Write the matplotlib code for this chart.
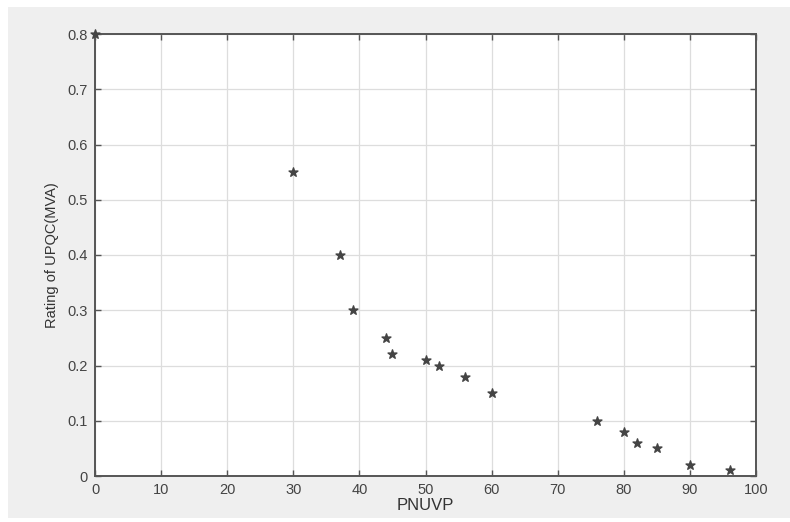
import matplotlib
matplotlib.use("Agg")
import matplotlib.pyplot as plt
from matplotlib.patches import Rectangle

pnuvp = [0, 30, 37, 39, 44, 45, 50, 52, 56, 60, 76, 80, 82, 85, 90, 96]
rating = [0.80, 0.55, 0.40, 0.30, 0.25, 0.22, 0.21, 0.20, 0.18, 0.15, 0.10, 0.08, 0.06, 0.05, 0.02, 0.01]
xticks = list(range(0, 101, 10))
yticks = [0, 0.1, 0.2, 0.3, 0.4, 0.5, 0.6, 0.7, 0.8]
ytick_labels = ["0", "0.1", "0.2", "0.3", "0.4", "0.5", "0.6", "0.7", "0.8"]

plt.rcParams['font.family'] = ['Liberation Sans', 'DejaVu Sans']

fig = plt.figure(figsize=(7.9, 5.22), dpi=100, facecolor='white')
fig.patches.append(Rectangle((8/790, 4/522), 782/790, 511/522, transform=fig.transFigure,
                             facecolor='#efefef', edgecolor='none', zorder=-10))
ax = fig.add_axes([95/790, 46/522, 661/790, 442/522])
ax.set_facecolor('white')
ax.scatter(pnuvp, rating, marker='*', s=45, color='#444444', zorder=3, clip_on=False)
ax.set_xlim(0, 100)
ax.set_ylim(0, 0.8)
ax.set_xticks(xticks)
ax.set_yticks(yticks)
ax.set_yticklabels(ytick_labels)
ax.grid(True, color='#dddddd', linewidth=0.9)
ax.set_axisbelow(True)
for s in ax.spines.values():
    s.set_color('#555555')
    s.set_linewidth(1.4)
ax.tick_params(direction='in', length=4, width=1, colors='#555555', labelsize=10.5,
               labelcolor='#444444', top=True, right=True, pad=5)
ax.set_xlabel('PNUVP', fontsize=12, color='#333333', labelpad=1)
ax.set_ylabel('Rating of UPQC(MVA)', fontsize=10.5, color='#333333', labelpad=6)
fig.savefig('out.png', dpi=100, facecolor=fig.get_facecolor())
